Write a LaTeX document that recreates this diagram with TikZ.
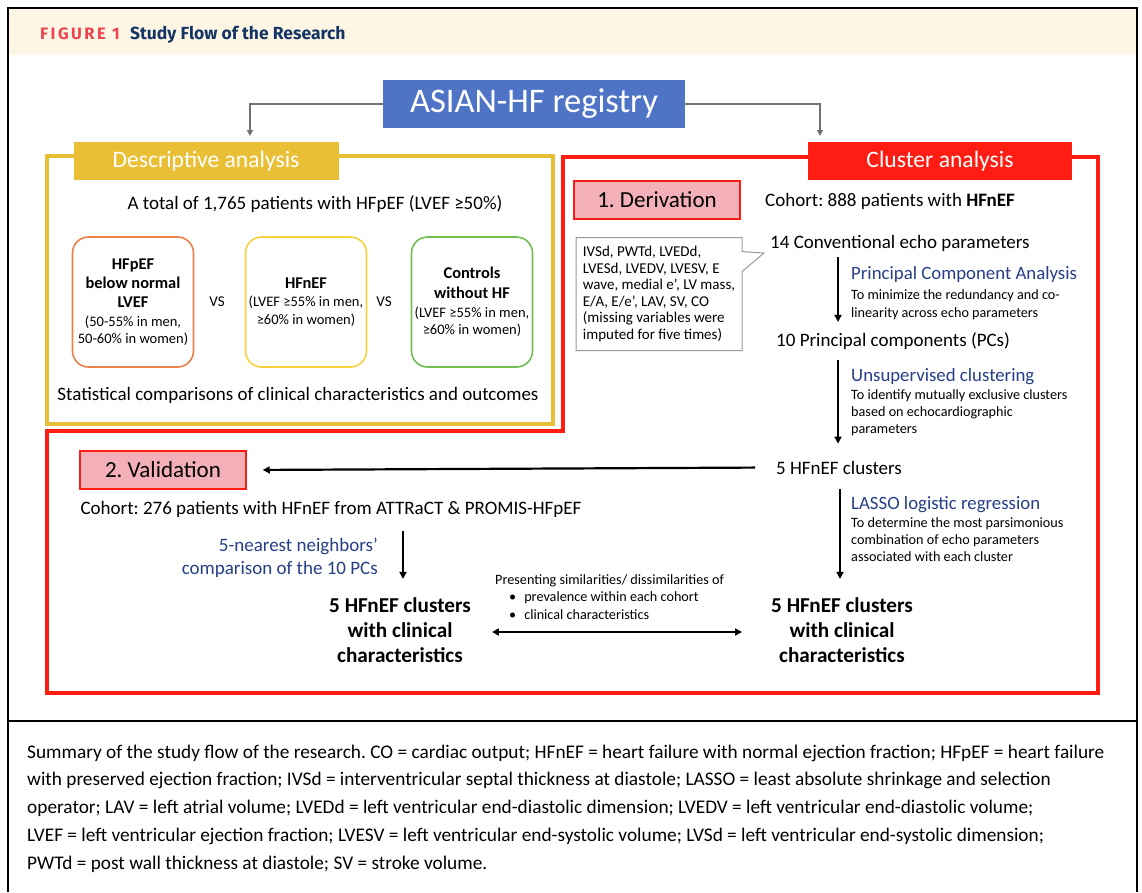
\documentclass[tikz,border=0pt]{standalone}
\usepackage{fontspec}
\setmainfont{Carlito}
\newfontfamily\headfont{Fira Sans}
\newfontfamily\figfont[LetterSpace=15]{Fira Sans}
\usepackage{xcolor}
\usetikzlibrary{arrows.meta, positioning, shapes.callouts}
\frenchspacing

\definecolor{regblue}{RGB}{79,116,198}
\definecolor{descgold}{RGB}{233,191,53}
\definecolor{clusred}{RGB}{255,28,18}
\definecolor{stagepink}{RGB}{244,176,184}
\definecolor{methblue}{RGB}{38,62,135}
\definecolor{boxorange}{RGB}{232,128,72}
\definecolor{boxyellow}{RGB}{247,208,60}
\definecolor{boxgreen}{RGB}{112,190,80}
\definecolor{bandcream}{RGB}{253,246,228}
\definecolor{figred}{RGB}{239,65,80}
\definecolor{fignavy}{RGB}{20,52,100}
\definecolor{linkgray}{RGB}{112,112,112}

\newcommand{\grouphead}[1]{{\fontsize{16.4}{20}\selectfont\bfseries #1}}

\begin{document}
\begin{tikzpicture}[
    x=1pt, y=-1pt,
    every node/.style={inner sep=0pt},
    hdrtag/.style={rectangle, minimum width=265, minimum height=38, text=white, font=\fontsize{23.6}{27}\selectfont},
    stagebox/.style={rectangle, draw=clusred, line width=1.5, fill=stagepink, minimum width=166, minimum height=38, font=\fontsize{23}{27}\selectfont},
    body/.style={font=\fontsize{19}{23}\selectfont},
    method/.style={text=methblue, font=\fontsize{18.8}{22}\selectfont, anchor=base west},
    note/.style={align=left, font=\fontsize{14.2}{17}\selectfont, anchor=base west},
    group/.style={rectangle, rounded corners=16, line width=1.6, minimum width=121, minimum height=130, align=center, font=\fontsize{14.5}{17.2}\selectfont},
    result/.style={align=center, font=\fontsize{21.2}{25}\selectfont\bfseries, anchor=base},
    flow/.style={line width=2.2, -{Triangle[length=7pt,width=7pt]}},
    feed/.style={line width=2.5, draw=linkgray, -{Triangle[length=6pt,width=6pt]}},
    panel/.style={line width=4}
]
    \useasboundingbox (0,0) rectangle (1142,892);

    % figure frame and heading band
    \fill[bandcream] (9,9) rectangle (1136,55);
    \draw[line width=2.5] (8,892) |- (1137,8) -- (1137,892);
    \draw[line width=1.5] (8,721) -- (1137,721);
    \node[anchor=base west, text=figred, font=\fontsize{16.5}{19}\selectfont\figfont\bfseries] (fignum) at (40,39) {FIGURE 1};
    \node[anchor=base west, text=fignavy, font=\fontsize{17.5}{20}\selectfont\headfont\bfseries] (figtitle) at (130,39.5) {Study Flow of the Research};

    % registry and the two analysis panels
    \node[fill=regblue, text=white, minimum width=302, minimum height=48, font=\fontsize{34.5}{38}\selectfont] (reg) at (534,104) {ASIAN-HF registry};
    \draw[panel, draw=descgold] (47,156) rectangle (553,424);
    \draw[panel, draw=clusred] (563,157) -- (1098,157) -- (1098,693) -- (47,693) -- (47,431) -- (563,431) -- cycle;
    \node[hdrtag, fill=descgold] (deschdr) at (206,161) {Descriptive analysis};
    \node[hdrtag, fill=clusred, minimum width=264] (clushdr) at (940,161) {Cluster analysis};

    \coordinate (descin) at (250,136);
    \coordinate (clusin) at (820,136);
    \draw[feed] (reg.west) -| (descin);
    \draw[feed] (reg.east) -| (clusin);

    % descriptive analysis
    \node[body, anchor=base] (total) at (315,209) {A total of 1,765 patients with HFpEF (LVEF ≥50\%)};
    \node[group, draw=boxorange] (belownormal) at (133,302) {\grouphead{HFpEF}\\[2pt] \grouphead{below normal}\\[2pt] \grouphead{LVEF}\\[1pt] (50-55\% in men,\\ 50-60\% in women)};
    \node[group, draw=boxyellow] (normalef) at (306,302) {\grouphead{HFnEF}\\[1pt] (LVEF ≥55\% in men,\\ ≥60\% in women)};
    \node[group, draw=boxgreen] (controls) at (472,302) {\grouphead{Controls}\\[2pt] \grouphead{without HF}\\[2pt] (LVEF ≥55\% in men,\\ ≥60\% in women)};
    \node[font=\fontsize{15}{17}\selectfont] (vs1) at (217,302) {VS};
    \node[font=\fontsize{15}{17}\selectfont] (vs2) at (384,302) {VS};
    \node[body, anchor=base] (stats) at (298,400) {Statistical comparisons of clinical characteristics and outcomes};

    % derivation
    \node[stagebox] (deriv) at (657,200) {1. Derivation};
    \node[body, anchor=base west] (cohort1) at (765,206) {Cohort: 888 patients with \textbf{HFnEF}};
    \node[body, anchor=base west] (conv) at (770,248) {14 Conventional echo parameters};
    \node[rectangle callout, draw=gray!80, line width=1, fill=white, minimum width=166, minimum height=113, align=left, font=\fontsize{15}{16.6}\selectfont, callout absolute pointer={(764,253)}, callout pointer width=20] (echolist) at (659,294) {IVSd, PWTd, LVEDd,\\ LVESd, LVEDV, LVESV, E\\ wave, medial e’, LV mass,\\ E/A, E/e’, LAV, SV, CO\\ (missing variables were\\ imputed for five times)};
    \node[method] (pca) at (851,279) {Principal Component Analysis};
    \node[note, font=\fontsize{14.2}{18}\selectfont] (pcanote) at (851,317) {To minimize the redundancy and co-\\ linearity across echo parameters};
    \node[body, anchor=base west] (pcs) at (776,346) {10 Principal components (PCs)};
    \node[method] (uclust) at (851,381) {Unsupervised clustering};
    \node[note] (uclustnote) at (851,433) {To identify mutually exclusive clusters\\ based on echocardiographic\\ parameters};
    \node[body, anchor=base west] (clus5) at (776,474) {5 HFnEF clusters};
    \node[method] (lasso) at (851,509) {LASSO logistic regression};
    \node[note] (lassonote) at (851,561) {To determine the most parsimonious\\ combination of echo parameters\\ associated with each cluster};
    \node[result] (rightres) at (842,662) {5 HFnEF clusters\\ with clinical\\ characteristics};

    % validation
    \node[stagebox] (valid) at (163,470) {2. Validation};
    \node[body, anchor=base] (cohort2) at (331,514) {Cohort: 276 patients with HFnEF from ATTRaCT \& PROMIS-HFpEF};
    \node[text=methblue, align=right, anchor=base east, font=\fontsize{19}{23.5}\selectfont] (knn) at (378,574.5) {5-nearest neighbors’\\ comparison of the 10 PCs};
    \node[result] (leftres) at (400,662) {5 HFnEF clusters\\ with clinical\\ characteristics};
    \node[note, font=\fontsize{14.2}{17.5}\selectfont] (compare) at (495,619) {Presenting similarities/ dissimilarities of\\ \hspace*{14pt}\textbullet\hspace{8pt}prevalence within each cohort\\ \hspace*{14pt}\textbullet\hspace{8pt}clinical characteristics};

    % arrows
    \coordinate (pcaaxis) at (838,0);
    \coordinate (lassoaxis) at (840,0);
    \coordinate (knnaxis) at (403,0);
    \coordinate (midrow) at (0,632);
    \draw[flow, shorten <=6pt, shorten >=10pt] (conv.south -| pcaaxis) -- (pcs.north -| pcaaxis);
    \draw[flow, shorten <=11pt, shorten >=17pt] (pcs.south -| pcaaxis) -- (clus5.north -| pcaaxis);
    \draw[flow, shorten <=15pt, shorten >=18pt] (clus5.south -| lassoaxis) -- (rightres.north -| lassoaxis);
    \draw[flow, shorten <=21pt, shorten >=16pt] (clus5.west) -- (valid.east);
    \draw[flow, shorten <=14pt, shorten >=18pt] (cohort2.south -| knnaxis) -- (leftres.north -| knnaxis);
    \draw[flow, {Triangle[length=7pt,width=7pt]}-{Triangle[length=7pt,width=7pt]}, shorten <=21pt, shorten >=29pt] (leftres.east |- midrow) -- (rightres.west |- midrow);

    % legend
    \node[anchor=base west, align=left, font=\fontsize{19.3}{27.8}\selectfont] (caption) at (27,869.2) {Summary of the study flow of the research. CO = cardiac output; HFnEF = heart failure with normal ejection fraction; HFpEF = heart failure\\ with preserved ejection fraction; IVSd = interventricular septal thickness at diastole; LASSO = least absolute shrinkage and selection\\ operator; LAV = left atrial volume; LVEDd = left ventricular end-diastolic dimension; LVEDV = left ventricular end-diastolic volume;\\ LVEF = left ventricular ejection fraction; LVESV = left ventricular end-systolic volume; LVSd = left ventricular end-systolic dimension;\\ PWTd = post wall thickness at diastole; SV = stroke volume.};
\end{tikzpicture}
\end{document}
